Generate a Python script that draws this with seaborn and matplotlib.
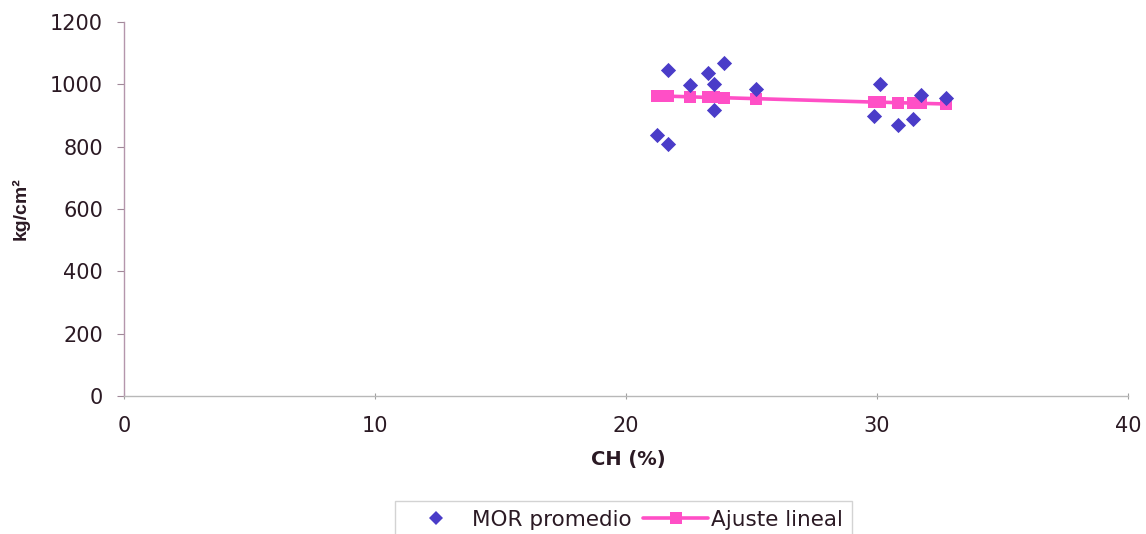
import matplotlib
matplotlib.use("Agg")
import pandas as pd
import matplotlib.pyplot as plt
import seaborn as sns
from matplotlib.lines import Line2D

# CH (%) vs MOR (kg/cm2)
ch = [21.24, 21.66, 21.69, 22.53, 23.26, 23.52, 23.52, 23.92, 25.19,
      29.90, 30.10, 30.85, 31.43, 31.76, 32.76]
mor = [839, 1046, 807, 998, 1035, 1000, 917, 1067, 984,
       898, 1000, 868, 888, 966, 955]
# linear fit values at the same CH points
ajuste = [963, 962, 962, 960, 958, 958, 958, 957, 954,
          943, 943, 941, 940, 939, 937]

x_ticks = [0, 10, 20, 30, 40]
y_ticks = [0, 200, 400, 600, 800, 1000, 1200]

sns.set_style("white")
plt.rcParams["font.family"] = ["DejaVu Sans"]

TEXT = "#2b1a24"
DIAMOND = "#4a3cc8"
PINK = "#ff4fc6"

df = pd.DataFrame({"ch": ch, "mor": mor, "ajuste": ajuste})

fig = plt.figure(figsize=(11.46, 5.34), dpi=100)
ax = fig.add_axes([0.1082, 0.2584, 0.8761, 0.7004])

sns.lineplot(data=df, x="ch", y="ajuste", ax=ax, color=PINK, linewidth=2.6,
             marker="s", markersize=9, markeredgewidth=0, estimator=None,
             errorbar=None, sort=True, zorder=2)
sns.scatterplot(data=df, x="ch", y="mor", ax=ax, color=DIAMOND, marker="D",
                s=60, linewidth=0, zorder=3)

ax.set_xlim(0, 40)
ax.set_ylim(0, 1200)
ax.set_xticks(x_ticks)
ax.set_yticks(y_ticks)
ax.tick_params(axis="y", direction="out", length=5, width=0.8, color="#a08898",
               labelsize=15, labelcolor=TEXT, pad=10)
ax.tick_params(axis="x", direction="inout", length=5, width=0.8, color="#a0a0a0",
               labelsize=15, labelcolor=TEXT, pad=12)
ax.yaxis.tick_left()
ax.xaxis.tick_bottom()

for side in ["top", "right"]:
    ax.spines[side].set_visible(False)
ax.spines["left"].set_color("#b496ac")
ax.spines["bottom"].set_color("#b8b8b8")
ax.spines["left"].set_linewidth(1.0)
ax.spines["bottom"].set_linewidth(1.0)

ax.set_xlabel("CH (%)", fontsize=14, fontweight="bold", color=TEXT)
ax.set_ylabel("kg/cm²", fontsize=14, fontweight="bold", color=TEXT,
              family=["Liberation Sans", "DejaVu Sans"])
ax.xaxis.set_label_coords(0.502, -0.145)
ax.yaxis.set_label_coords(-0.094, 0.5)

handles = [
    Line2D([], [], linestyle="none", marker="D", markersize=7,
           color=DIAMOND, markeredgewidth=0),
    Line2D([], [], color=PINK, linewidth=2.6, marker="s", markersize=9,
           markeredgewidth=0),
]
fig.legend(handles, ["MOR promedio", "Ajuste lineal"], ncol=2,
           loc="upper left", bbox_to_anchor=(0.345, 0.062), frameon=True,
           fancybox=False, edgecolor="#c8c8c8", fontsize=15.5,
           labelcolor=TEXT, handlelength=3.0, columnspacing=0.55,
           handletextpad=0.15, borderpad=0.4, borderaxespad=0)

fig.savefig("out.png", dpi=100)
